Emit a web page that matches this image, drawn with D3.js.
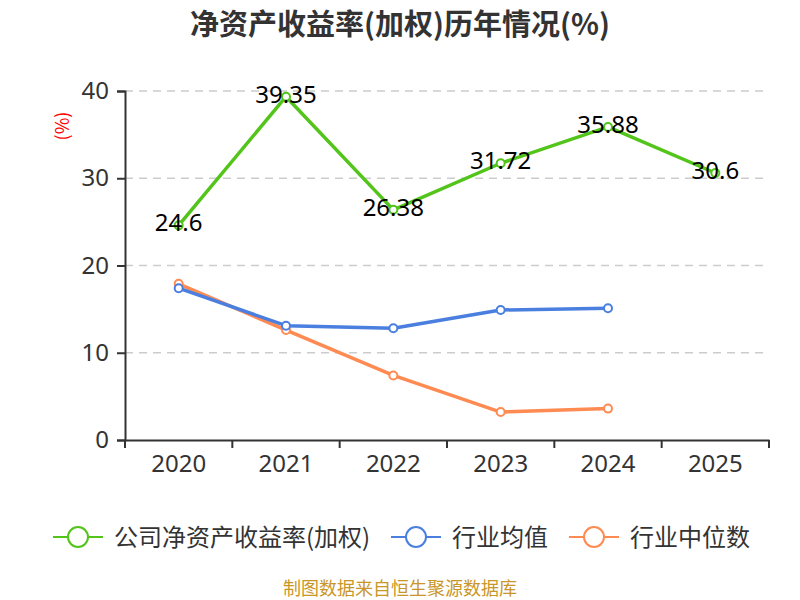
<!DOCTYPE html>
<html>
<head>
<meta charset="utf-8">
<script src="https://cdn.jsdelivr.net/npm/d3@7"></script>
<style>
  body { margin: 0; background: #fff; }
  svg text { font-family: "Noto Sans CJK SC", "Noto Sans", sans-serif; }
</style>
</head>
<body>
<div id="chart"></div>
<script>
'use strict'

// data
const years = ['2020', '2021', '2022', '2023', '2024', '2025']
const companyRoe = [24.6, 39.35, 26.38, 31.72, 35.88, 30.6]
const industryAvg = [17.4, 13.1, 12.8, 14.9, 15.1]
const industryMedian = [17.9, 12.6, 7.4, 3.2, 3.6]
const yTicks = [0, 10, 20, 30, 40]

const seriesNames = ['公司净资产收益率(加权)', '行业均值', '行业中位数']
const colors = ['#52c41a', '#4a7fe0', '#ff8a52']

const svgWidth = 800
const svgHeight = 600
const margin = { left: 125, right: 31, top: 91, bottom: 160 }
const width = svgWidth - margin.left - margin.right
const height = svgHeight - margin.top - margin.bottom

const svg = d3.select('#chart')
    .append('svg')
    .attr('width', svgWidth)
    .attr('height', svgHeight)

// title
svg.append('text')
    .attr('x', 400)
    .attr('y', 35)
    .attr('text-anchor', 'middle')
    .attr('font-size', 29)
    .attr('font-weight', 'bold')
    .attr('fill', '#333')
    .text('净资产收益率(加权)历年情况(%)')

// y axis unit label
svg.append('text')
    .attr('transform', 'translate(69,126) rotate(-90)')
    .attr('text-anchor', 'middle')
    .attr('font-size', 18)
    .attr('fill', 'red')
    .text('(%)')

const g = svg.append('g')
    .attr('transform', `translate(${margin.left},${margin.top})`)

const x = d3.scaleBand().domain(years).range([0, width])
const y = d3.scaleLinear().domain([0, 40]).range([height, 0])
const cx = d => x(d) + x.bandwidth() / 2

// grid
g.append('g')
    .selectAll('line')
    .data(yTicks.filter(t => t > 0))
    .join('line')
    .attr('x1', 0)
    .attr('x2', width)
    .attr('y1', d => y(d))
    .attr('y2', d => y(d))
    .attr('stroke', '#ccc')
    .attr('stroke-width', 1.5)
    .attr('stroke-dasharray', '8,6')

// y axis
const yAxis = g.append('g')
    .call(d3.axisLeft(y).tickValues(yTicks).tickSize(8).tickPadding(8))
yAxis.select('.domain').attr('stroke', '#333').attr('stroke-width', 2)
yAxis.selectAll('.tick line').attr('stroke', '#333').attr('stroke-width', 2)
yAxis.selectAll('.tick text').attr('font-size', 24).attr('fill', '#333')
    .style('font-family', '"Noto Sans", sans-serif')

// x axis
const xAxis = g.append('g')
    .attr('transform', `translate(0,${height})`)
    .call(d3.axisBottom(x).tickSizeOuter(0).tickSize(0).tickPadding(15))
xAxis.select('.domain').attr('stroke', '#333').attr('stroke-width', 2)
xAxis.selectAll('.tick text').attr('font-size', 24).attr('fill', '#333')
    .style('font-family', '"Noto Sans", sans-serif')
// ticks on band boundaries
xAxis.append('g')
    .selectAll('line')
    .data(years.concat(['end']))
    .join('line')
    .attr('x1', (d, i) => i * x.step())
    .attr('x2', (d, i) => i * x.step())
    .attr('y1', 0)
    .attr('y2', 8)
    .attr('stroke', '#333')
    .attr('stroke-width', 2)

// lines
const allSeries = [companyRoe, industryAvg, industryMedian]
const line = d3.line()
    .x((d, i) => cx(years[i]))
    .y(d => y(d))

// draw median, avg, then company so company sits on top
;[2, 1, 0].forEach(k => {
    const vals = allSeries[k]
    g.append('path')
        .datum(vals)
        .attr('fill', 'none')
        .attr('stroke', colors[k])
        .attr('stroke-width', 3.5)
        .attr('stroke-linejoin', 'round')
        .attr('d', line)
    g.append('g')
        .selectAll('circle')
        .data(vals)
        .join('circle')
        .attr('cx', (d, i) => cx(years[i]))
        .attr('cy', d => y(d))
        .attr('r', 4)
        .attr('fill', '#fff')
        .attr('stroke', colors[k])
        .attr('stroke-width', 2)
})

// value labels for company series
g.append('g')
    .selectAll('text')
    .data(companyRoe)
    .join('text')
    .attr('x', (d, i) => cx(years[i]))
    .attr('y', d => y(d) + 6)
    .attr('text-anchor', 'middle')
    .attr('font-size', 24)
    .attr('fill', '#000')
    .style('font-family', '"Noto Sans", sans-serif')
    .text(d => d)

// legend
const legendItems = [
    { x: 53, name: seriesNames[0], color: colors[0] },
    { x: 391, name: seriesNames[1], color: colors[1] },
    { x: 569, name: seriesNames[2], color: colors[2] }
]
const legend = svg.append('g')
    .attr('transform', 'translate(0,537)')
const li = legend.selectAll('g')
    .data(legendItems)
    .join('g')
    .attr('transform', d => `translate(${d.x},0)`)
li.append('line')
    .attr('x1', 0).attr('x2', 50)
    .attr('y1', 0).attr('y2', 0)
    .attr('stroke', d => d.color)
    .attr('stroke-width', 2)
li.append('circle')
    .attr('cx', 25).attr('cy', 0).attr('r', 10)
    .attr('fill', '#fff')
    .attr('stroke', d => d.color)
    .attr('stroke-width', 2)
li.append('text')
    .attr('x', 61)
    .attr('y', 8.5)
    .attr('font-size', 24)
    .attr('fill', '#333')
    .text(d => d.name)

// source
svg.append('text')
    .attr('x', 400)
    .attr('y', 595)
    .attr('text-anchor', 'middle')
    .attr('font-size', 18)
    .attr('fill', '#c9962a')
    .text('制图数据来自恒生聚源数据库')
</script>
</body>
</html>
